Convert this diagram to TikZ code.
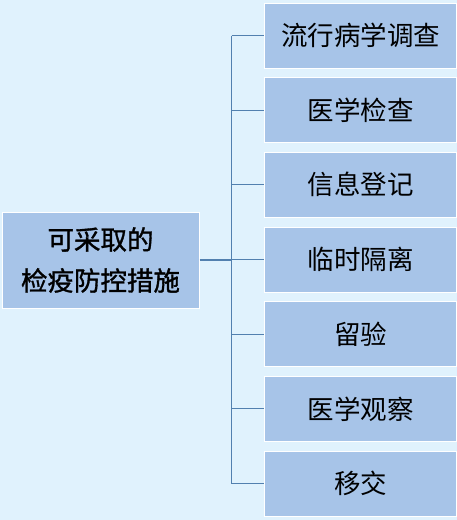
\documentclass[tikz,border=0pt]{standalone}
\usepackage{fontspec}
\newfontfamily\cjk{Noto Sans CJK SC}
\newfontfamily\cjkheavy[FakeBold=1.2]{Noto Sans CJK SC}
\usetikzlibrary{positioning,calc}
\definecolor{bgblue}{RGB}{224,242,253}
\definecolor{boxblue}{RGB}{167,196,232}
\definecolor{lineblue}{RGB}{82,128,175}

\begin{document}
\begin{tikzpicture}[x=1pt, y=-1pt,
    item/.style={draw=white, line width=1pt, fill=boxblue, inner sep=0pt,
        minimum width=192pt, minimum height=65pt,
        font=\cjk\fontsize{26.5}{30}\selectfont},
    link/.style={draw=lineblue, line width=1.3pt}]
                    \fill[bgblue] (0,0) rectangle (457,520);
                    \node[item, minimum width=197pt, minimum height=96pt, align=center,
                        font=\cjkheavy\fontsize{26.5}{41}\selectfont] (root) at (100.5,260) {可采取的\\检疫防控措施};
                    \node[item] (m1) at (360.5,35.5) {流行病学调查};
                    \node[item] (m2) at (360.5,110.2) {医学检查};
                    \node[item] (m3) at (360.5,184.8) {信息登记};
                    \node[item] (m4) at (360.5,259.5) {临时隔离};
                    \node[item] (m5) at (360.5,334.2) {留验};
                    \node[item] (m6) at (360.5,408.8) {医学观察};
                    \node[item] (m7) at (360.5,483.5) {移交};
                    \coordinate (spine) at (231.5,260);
                    \draw[link] (m1.west -| spine) -- (m7.west -| spine);
                    \draw[link] (root.east) -- (spine);
                    \draw[link] (m1.west -| spine) -- (m1.west);
                    \draw[link] (m2.west -| spine) -- (m2.west);
                    \draw[link] (m3.west -| spine) -- (m3.west);
                    \draw[link] (m4.west -| spine) -- (m4.west);
                    \draw[link] (m5.west -| spine) -- (m5.west);
                    \draw[link] (m6.west -| spine) -- (m6.west);
                    \draw[link] (m7.west -| spine) -- (m7.west);
                    \useasboundingbox (0,0) rectangle (457,520);
                \end{tikzpicture}
\end{document}
